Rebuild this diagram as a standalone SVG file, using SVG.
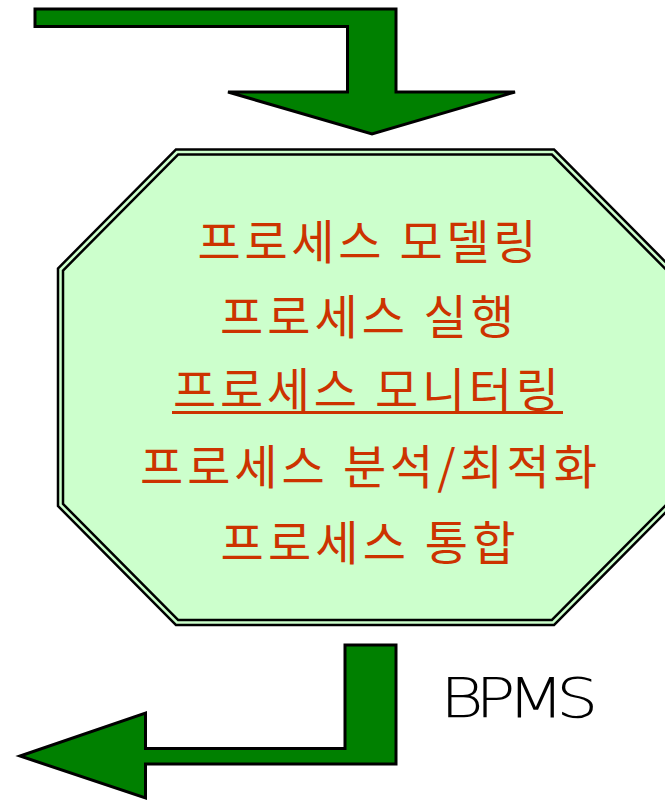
<svg xmlns="http://www.w3.org/2000/svg" width="665" height="802" viewBox="0 0 665 802">
  <style>
    .arrow { fill: #008000; stroke: #000; stroke-width: 3; stroke-linejoin: miter; }
    .oct-out { fill: #CCFFCC; stroke: #000; stroke-width: 7.5; stroke-linejoin: miter; }
    .oct-in { fill: none; stroke: #CCFFCC; stroke-width: 2.5; stroke-linejoin: miter; }
    .ko { font-family: "Noto Sans CJK KR", "Noto Sans CJK SC", sans-serif; font-size: 47px; fill: #CC3300; text-anchor: middle; }
    .lbl { font-family: "DejaVu Sans", "Liberation Sans", sans-serif; font-weight: 200; font-size: 55px; letter-spacing: -7px; fill: #000; }
  </style>
  <rect width="665" height="802" fill="#fff"/>
  <g id="connectors">
    <path id="arrow-in" class="arrow" d="M35,9 L396,9 L396,92 L515,92 L372,134 L228,92 L347.5,92 L347.5,26.5 L35,26.5 Z"/>
    <path id="arrow-out" class="arrow" d="M345,645 L396,645 L396,764 L145.5,764 L145.5,798 L20,756 L145.5,713 L145.5,748.5 L345,748.5 Z"/>
  </g>
  <g id="bpms-node">
    <polygon class="oct-out" points="177,152 553,152 669.5,269.5 669.5,505 553,622.5 177,622.5 60.5,505 60.5,269.5"/>
    <polygon class="oct-in" points="177,152 553,152 669.5,269.5 669.5,505 553,622.5 177,622.5 60.5,505 60.5,269.5"/>
    <text class="ko" x="367" y="259" textLength="339" lengthAdjust="spacing">프로세스 모델링</text>
    <text class="ko" x="367" y="334" textLength="294" lengthAdjust="spacing">프로세스 실행</text>
    <text class="ko" x="366" y="407" textLength="386" lengthAdjust="spacing">프로세스 모니터링</text>
    <line x1="172" y1="412.5" x2="563" y2="412.5" stroke="#CC3300" stroke-width="3"/>
    <text class="ko" x="368.5" y="484" textLength="457" lengthAdjust="spacing">프로세스 분석/최적화</text>
    <text class="ko" x="368" y="560" textLength="295" lengthAdjust="spacing">프로세스 통합</text>
  </g>
  <g id="label">
    <text class="lbl" x="440" y="717" textLength="150" lengthAdjust="spacingAndGlyphs">BPMS</text>
  </g>
</svg>
